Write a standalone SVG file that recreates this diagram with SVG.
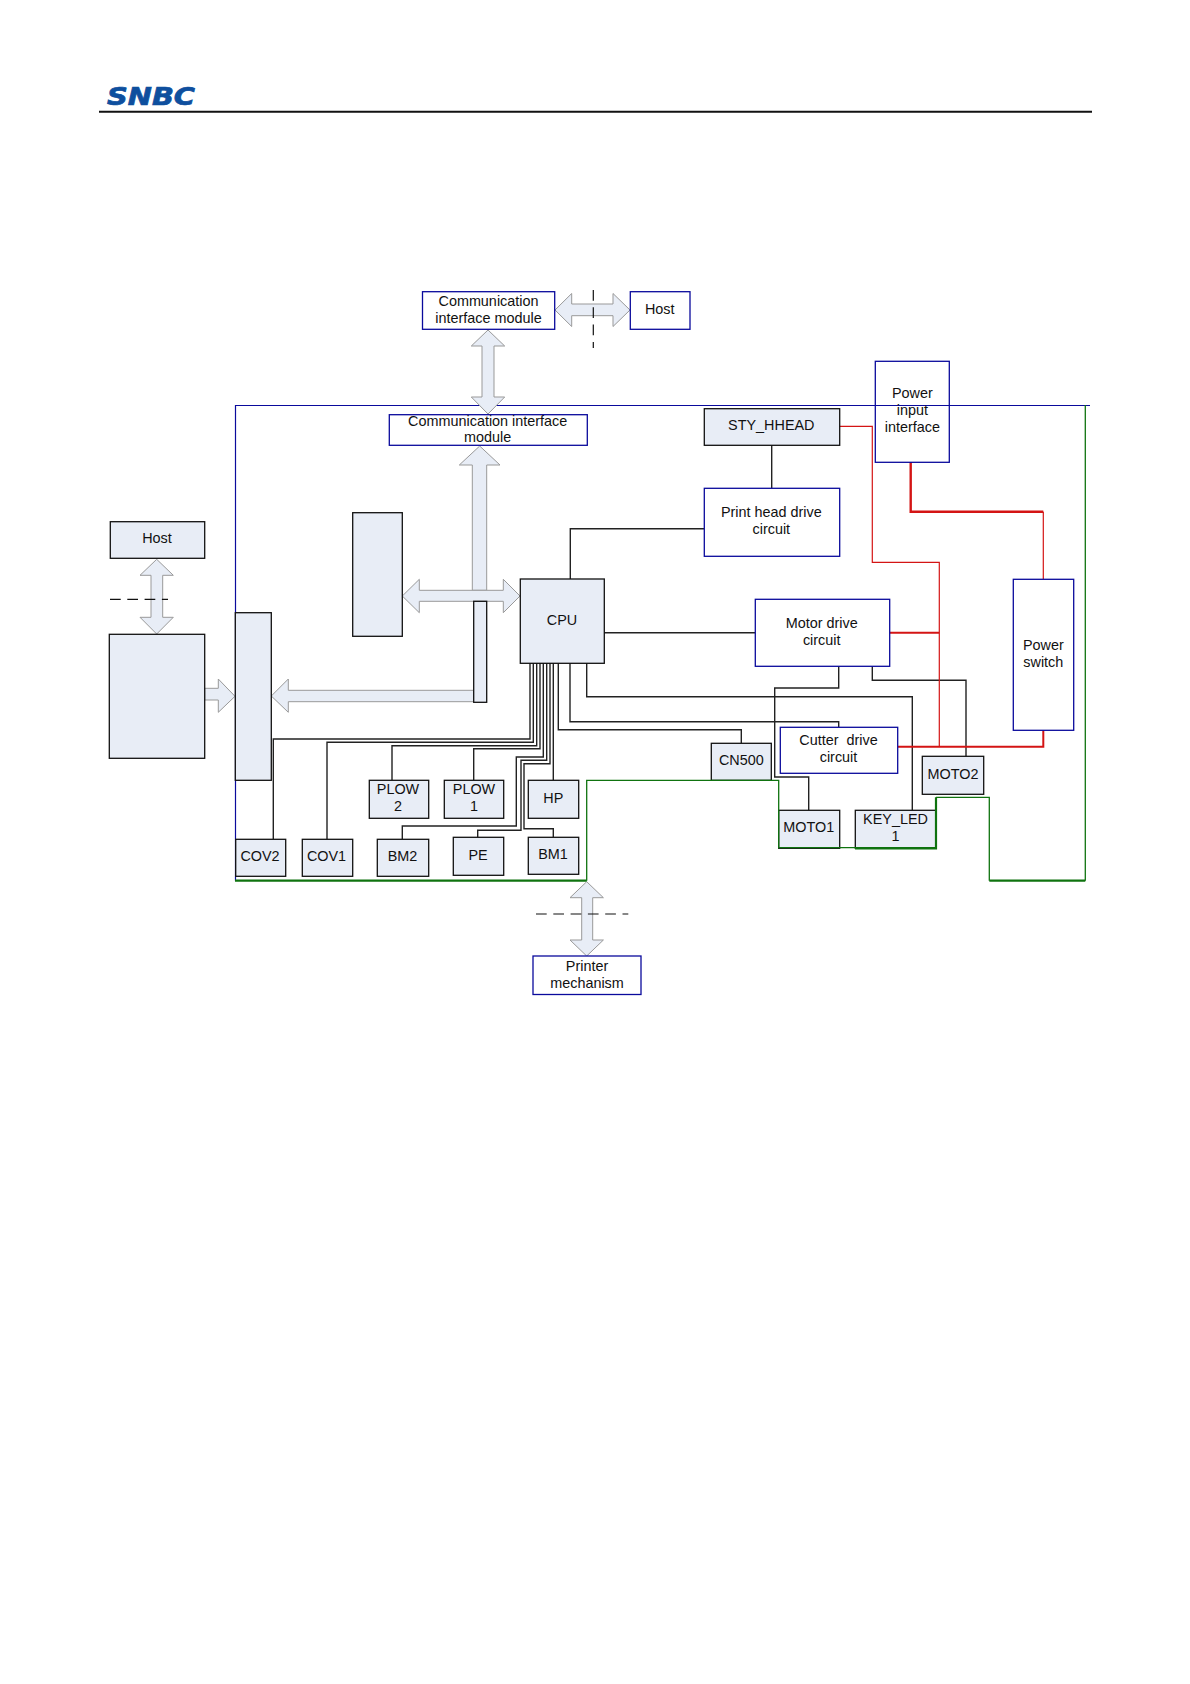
<svg xmlns="http://www.w3.org/2000/svg" width="1190" height="1684" viewBox="0 0 1190 1684">
<style>
text{font-family:"Liberation Sans",Arial,sans-serif;font-size:14.4px;fill:#111;text-anchor:middle;white-space:pre}
.w{fill:#fff;stroke:#0a0a9c;stroke-width:1.3}
.g{fill:#e8edf6;stroke:#111;stroke-width:1.3}
.a{fill:#e8edf6;stroke:#999;stroke-width:1}
.k{fill:none;stroke:#222;stroke-width:1.4}
.r{fill:none;stroke:#d41414;stroke-width:1.2}
.rt{fill:none;stroke:#d41414;stroke-width:2}
.gr{fill:none;stroke:#0f730f;stroke-width:1.3}
.grt{fill:none;stroke:#0f730f;stroke-width:2.2}
.bl{fill:none;stroke:#0a0a9c;stroke-width:1.2}
.d{fill:none;stroke:#111;stroke-width:1.2;stroke-dasharray:10.7 6.6}
</style>
<g id="header">
<text x="151" y="105" style="font-family:'DejaVu Sans',sans-serif;font-weight:bold;font-style:italic;font-size:24px;fill:#0e4f9e;stroke:#0e4f9e;stroke-width:.7" textLength="88" lengthAdjust="spacingAndGlyphs">SNBC</text>
<line x1="99" y1="111.7" x2="1092" y2="111.7" stroke="#111" stroke-width="2"/>
</g>
<g id="connectors">
<path class="bl" d="M235.5 880.7V405.5H1090"/>
<path class="k" d="M771.7 445V488M704 528.7H570.3V579M604 632.7H755"/>
<path class="k" d="M273.3 839V739H530V663M327 839V742.3H533.3V663M392 780V745.7H536.7V663M473.7 780V748.7H540V663"/>
<path class="k" d="M402.3 839V826H516.3V757H543.3V663M477.7 837V830.3H521V760.3H546.7V663M553.3 837V828.7H524V763.7H550V663M553.3 780V663"/>
<path class="k" d="M558.3 663V729.7H741.3V743.3M570 663V721.7H838.7V727.3M586.7 663V696.7H912.3V810.3"/>
<path class="k" d="M838.7 666V688H774.7V777H808.7V810.3M872.3 666V680.3H966V756.3"/>
<path class="r" d="M838.7 426.3H872.3V562.3H939.3V746.7M1043.3 511.7V579.3"/>
<path class="rt" d="M889.7 632.7H939.3M897.7 746.7H1043.3V730.3"/>
<path class="rt" style="stroke-width:2.4" d="M910.7 462V511.7H1043.3"/>
</g>
<g id="arrows">
<path class="a" d="M555 310L571.7 293.5V304H613V293.5L630 310L613 326.5V315.7H571.7V326.5Z"/>
<path class="a" d="M488 330L504.7 346H494V397H504.7L488 414L471.3 397H482V346H471.3Z"/>
<path class="a" d="M156.7 559.3L173.3 575.3H162.7V617.3H173.3L156.7 634L140 617.3H151V575.3H140Z"/>
<path class="a" d="M204.7 688.3H218.3V679L235 696.3L218.3 712.3V700H204.7Z"/>
<path class="a" d="M479.7 446L500 465H486.7V590.3H472.3V465H459.3Z"/>
<path class="a" d="M402.3 596L419.3 579.3V590.3H503.3V579.3L520 596L503.3 612.7V601.3H419.3V612.7Z"/>
<path class="a" d="M271.3 696L288.3 679V690.3H473.7V701.7H288.3V712.3Z"/>
<path class="a" d="M586.7 881.7L603.4 897.7H592.7V940H603.4L586.7 956L570 940H581.7V897.7H570Z"/>
<path class="d" d="M593.3 290V348"/>
<path class="d" d="M110 599.3H168"/>
<path class="d" d="M536 914H628.3"/>
</g>
<g id="comm-top"><rect class="w" x="422.5" y="291.7" width="132.2" height="37.6"/><text x="488.5" y="305.7">Communication</text><text x="488.5" y="322.5">interface module</text></g>
<g id="host-top"><rect class="w" x="630.3" y="291.7" width="59.7" height="37.6"/><text x="659.7" y="314">Host</text></g>
<g id="comm-main"><rect class="w" x="389.3" y="414.7" width="198" height="30.6"/><text x="487.7" y="425.5">Communication interface</text><text x="487.7" y="442.4">module</text></g>
<g id="sty"><rect class="g" x="704.3" y="408.7" width="135.4" height="36.6"/><text x="771.3" y="430">STY_HHEAD</text></g>
<g id="power-input"><rect x="875.3" y="361.3" width="74" height="101" style="fill:none;stroke:#0a0a9c;stroke-width:1.3"/><text x="912.3" y="398">Power</text><text x="912.3" y="415">input</text><text x="912.3" y="432">interface</text></g>
<g id="print-head"><rect class="w" x="704.3" y="488.3" width="135.4" height="68"/><text x="771.3" y="517">Print head drive</text><text x="771.3" y="534">circuit</text></g>
<g id="host-left"><rect class="g" x="110.3" y="521.7" width="94.4" height="36.6"/><text x="157" y="543">Host</text></g>
<g id="blank-mid"><rect class="g" x="352.7" y="512.7" width="49.6" height="123.6"/></g>
<g id="cpu"><rect class="g" x="520.3" y="579" width="84" height="84.3"/><text x="562" y="625">CPU</text></g>
<g id="motor"><rect class="w" x="755.3" y="599.3" width="134.4" height="67"/><text x="821.7" y="628">Motor drive</text><text x="821.7" y="645">circuit</text></g>
<g id="power-switch"><rect class="w" x="1013.3" y="579.3" width="60.4" height="151"/><text x="1043.3" y="650">Power</text><text x="1043.3" y="667">switch</text></g>
<g id="blank-left"><rect class="g" x="109.3" y="634.3" width="95.4" height="124"/></g>
<g id="blank-bar"><rect class="g" x="235.3" y="612.7" width="36" height="167.6"/></g>
<g id="small-bar"><rect class="g" x="473.7" y="601.3" width="13" height="101"/></g>
<g id="cutter"><rect class="w" x="780.3" y="727.3" width="117.4" height="46"/><text x="838.5" y="745">Cutter  drive</text><text x="838.5" y="762">circuit</text></g>
<g id="cn500"><rect class="g" x="711.3" y="743.3" width="60" height="37"/><text x="741.3" y="765">CN500</text></g>
<g id="moto2"><rect class="g" x="922.3" y="756.3" width="61.4" height="38"/><text x="953" y="779">MOTO2</text></g>
<g id="plow2"><rect class="g" x="369.3" y="780.3" width="59.4" height="38"/><text x="398" y="794">PLOW</text><text x="398" y="811">2</text></g>
<g id="plow1"><rect class="g" x="444.3" y="780.3" width="59.4" height="38"/><text x="474" y="794">PLOW</text><text x="474" y="811">1</text></g>
<g id="hp"><rect class="g" x="528.3" y="780.3" width="50.4" height="38"/><text x="553.3" y="803">HP</text></g>
<g id="moto1"><rect class="g" x="778.7" y="810.3" width="61" height="38"/><text x="808.7" y="832">MOTO1</text></g>
<g id="key-led"><rect class="g" x="855.3" y="810.3" width="80.7" height="38"/><text x="895.5" y="824">KEY_LED</text><text x="895.5" y="841">1</text></g>
<g id="cov2"><rect class="g" x="235.7" y="839.3" width="50" height="37"/><text x="260" y="861">COV2</text></g>
<g id="cov1"><rect class="g" x="302.3" y="839.3" width="50.4" height="37"/><text x="326.5" y="861">COV1</text></g>
<g id="bm2"><rect class="g" x="377.3" y="839.3" width="51.4" height="37"/><text x="402.5" y="861">BM2</text></g>
<g id="pe"><rect class="g" x="453.3" y="837.3" width="50.4" height="38"/><text x="478" y="860">PE</text></g>
<g id="bm1"><rect class="g" x="528.3" y="837.3" width="50.4" height="37"/><text x="553" y="859">BM1</text></g>
<g id="printer"><rect class="w" x="533" y="956" width="108" height="38.5"/><text x="587" y="971">Printer</text><text x="587" y="988">mechanism</text></g>
<g id="green-wires">
<path class="grt" d="M235 880.7H586.7"/>
<path class="gr" d="M586.7 880.7V780.3H778.7V847.7H936"/>
<path class="grt" d="M855 848.3H936V797.3"/>
<path class="gr" d="M936 797.3H989.3V880.7"/>
<path class="grt" d="M989.3 880.7H1085.3"/>
<path class="gr" d="M1085.3 880.7V405"/>
</g>
</svg>
